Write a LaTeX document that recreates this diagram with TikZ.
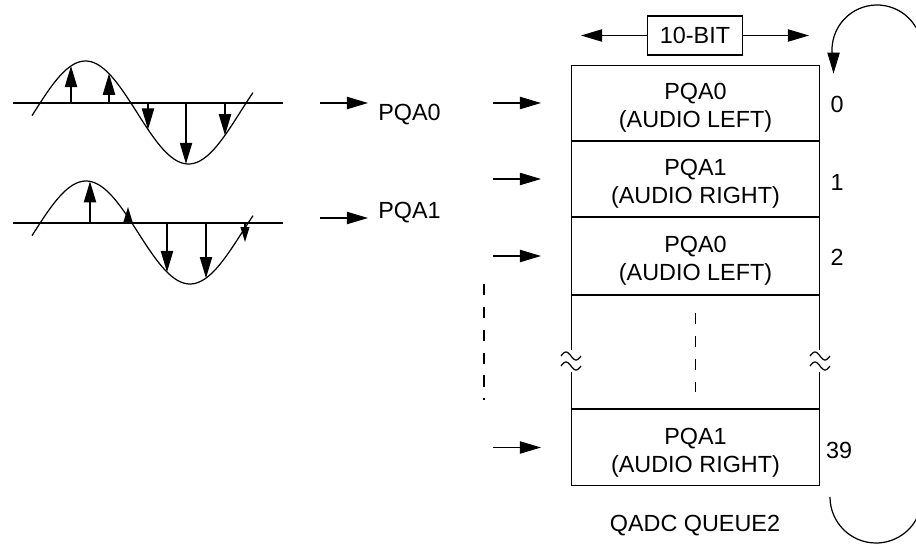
\documentclass[tikz,border=0pt]{standalone}
\usepackage{fontspec}
\setmainfont{Liberation Sans}
\usetikzlibrary{positioning, arrows.meta}

\newcommand{\qfont}{\fontsize{13.3}{16}\selectfont}

\tikzset{
  cell/.style={draw, line width=0.7pt, minimum width=141.16pt, inner sep=0pt},
  txt/.style={font=\qfont, align=center, inner sep=0pt},
  feed/.style={-{Triangle[length=12pt,width=7pt]}, line width=0.7pt},
  tick/.style={-{Triangle[length=8.5pt,width=5pt]}, line width=0.7pt},
  wave/.style={line width=0.7pt},
  gapline/.style={line width=0.7pt, dash pattern=on 6.5pt off 6.5pt},
  brk/.pic={
    \fill[white] (-11,-11) rectangle (11,11);
    \draw[wave] plot[domain=-10:10, samples=25, smooth] (\x, {-5-4*sin(18*(\x+10))});
    \draw[wave] plot[domain=-10:10, samples=25, smooth] (\x, {5-4*sin(18*(\x+10))});
  }
}

\begin{document}
\begin{tikzpicture}[x=0.02cm, y=-0.02cm]
\clip (0,0) rectangle (916,544);

% sampled waveforms
\draw[wave] (13,103) -- (283,103);
\draw[wave] plot[domain=32:253, samples=90, smooth] (\x, {112.5-51.5*sin((\x-34)*1.7476)});
\foreach \sx in {71,109,148,186,225}
  \draw[feed] (\sx,103) -- (\sx, {112.5-51.5*sin((\sx-34)*1.7476)});

\draw[wave] (13,223) -- (283,223);
\draw[wave] plot[domain=32:253, samples=90, smooth] (\x, {232.5-51.5*sin((\x-34)*1.7308)});
\foreach \sx in {90,167,206}
  \draw[feed] (\sx,223) -- (\sx, {232.5-51.5*sin((\sx-34)*1.7308)});
\draw[tick] (128,223) -- (128,207);
\draw[tick] (245,223) -- (245,242);

% converted channels
\coordinate (s0) at (320,103);
\coordinate (s1) at (320,218);
\node[txt, anchor=base west] (p0) at (378,120) {PQA0};
\node[txt, anchor=base west] (p1) at (378,218) {PQA1};
\draw[feed] (s0) -- ++(48,0);
\draw[feed] (s1) -- ++(48,0);
\draw[gapline] (484,284) -- (484,400);

% queue
\node[cell, minimum height=43.09pt] (q0) at (695.5,103) {};
\node[cell, minimum height=43.09pt] (q1) at (695.5,179) {};
\node[cell, minimum height=44.22pt] (q2) at (695.5,256) {};
\node[cell, minimum height=64.63pt] (qgap) at (695.5,352) {};
\node[cell, minimum height=43.65pt] (q4) at (695.5,447.5) {};
\node[txt] (t0) at ([yshift=-2.8pt]q0.center) {PQA0\\(AUDIO LEFT)};
\node[txt] (t1) at ([yshift=-2.8pt]q1.center) {PQA1\\(AUDIO RIGHT)};
\node[txt] (t2) at ([yshift=-2.8pt]q2.center) {PQA0\\(AUDIO LEFT)};
\node[txt] (t4) at ([yshift=-2.8pt]q4.center) {PQA1\\(AUDIO RIGHT)};
\draw[gapline] (695.5,313) -- (695.5,392);
\pic at (571,361) {brk};
\pic at (820,361) {brk};
\foreach \r in {q0,q1,q2,q4}
  \draw[feed] ([xshift=-44.2pt]\r.west) -- ([xshift=-17pt]\r.west);

% entry numbers
\node[txt, anchor=base] (i0) at (837,112.7) {0};
\node[txt, anchor=base] (i1) at (837,190) {1};
\node[txt, anchor=base] (i2) at (837,265) {2};
\node[txt, anchor=base] (i39) at (839,458.3) {39};
\node[txt, anchor=base] (qname) at (695,531.7) {QADC QUEUE2};

% word width
\node[draw, line width=0.7pt, minimum width=54.4pt, minimum height=22.1pt, font=\qfont] (bits) at (695,35.5) {10-BIT};
\coordinate (wl) at (581,35.5);
\coordinate (wr) at (809,35.5);
\draw[feed] (bits.west) -- (wl);
\draw[feed] (bits.east) -- (wr);

% wrap around
\draw[feed] (877,50) ++(-30:45) arc[start angle=-30, end angle=-195, radius=45] -- ++(0,12);
\draw[wave] (830,497) arc[start angle=180, end angle=-20, radius=46];
\end{tikzpicture}
\end{document}
